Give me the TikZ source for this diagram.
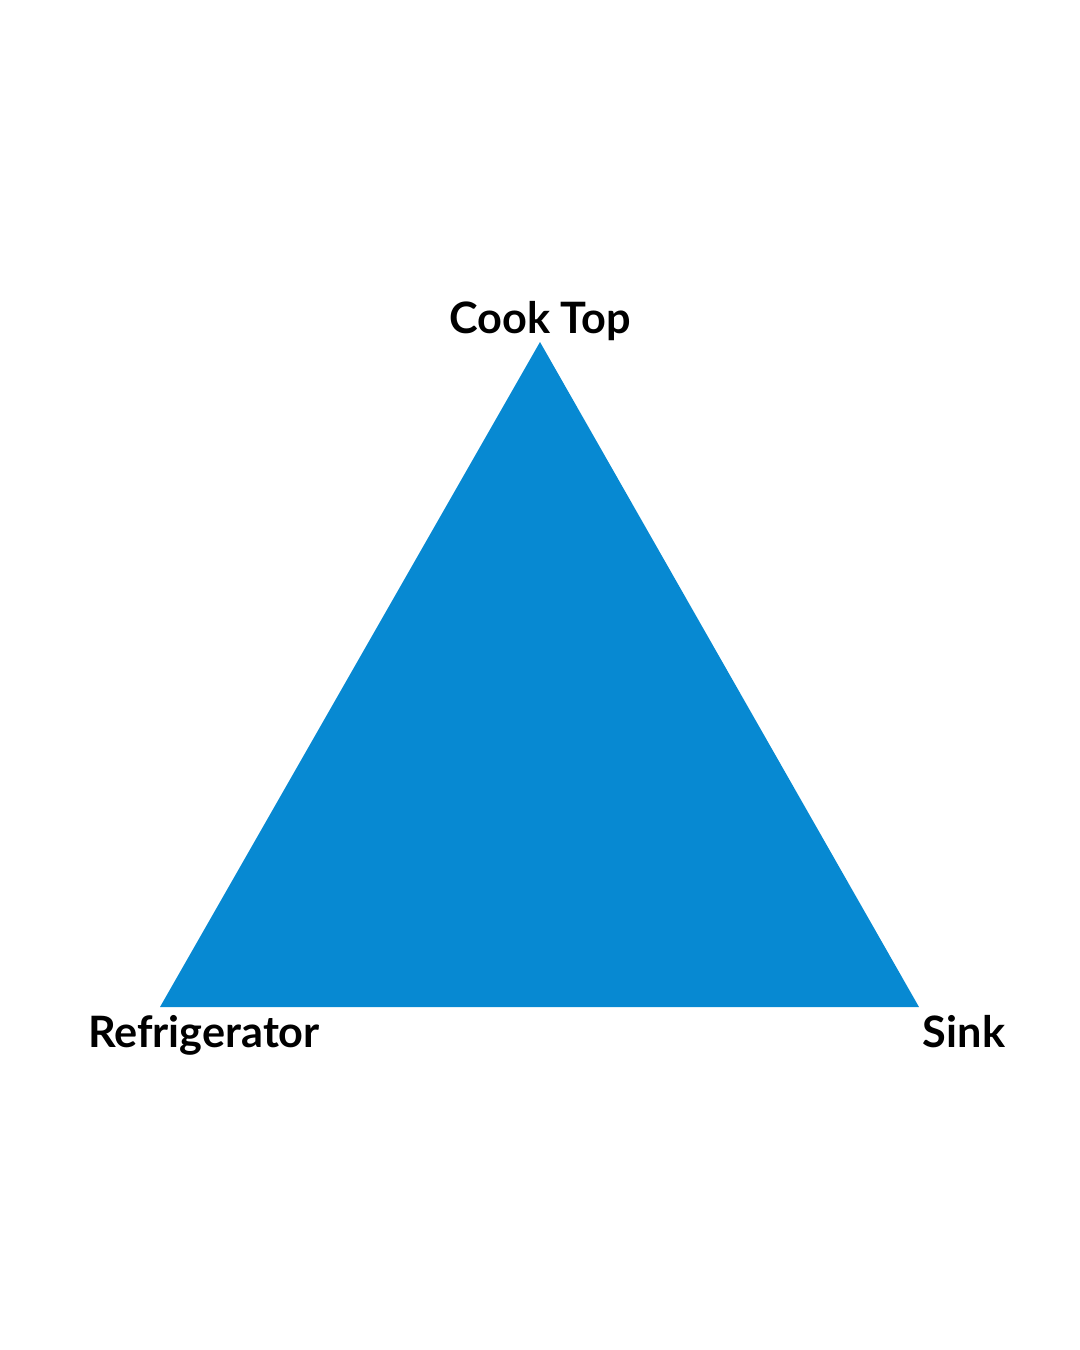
\documentclass[tikz,border=0pt]{standalone}
\usepackage{fontspec}
\setmainfont{Lato}
\usetikzlibrary{positioning}
\definecolor{triblue}{HTML}{0789D2}

\begin{document}
\begin{tikzpicture}[x=0.01cm,y=-0.01cm,
    corner label/.style={font=\bfseries\fontsize{12.3}{15}\selectfont,inner sep=0pt,anchor=base}]
    \useasboundingbox (0,0) rectangle (1080,1350);
    \coordinate (cook) at (540,342);
    \coordinate (fridge) at (160,1007);
    \coordinate (sink) at (919,1007);
    \fill[triblue] (cook) -- (fridge) -- (sink) -- cycle;
    \node[corner label] (cooklabel) at (540,333) {Cook Top};
    \node[corner label] (fridgelabel) at (204,1047) {Refrigerator};
    \node[corner label] (sinklabel) at (964,1047) {Sink};
\end{tikzpicture}
\end{document}
